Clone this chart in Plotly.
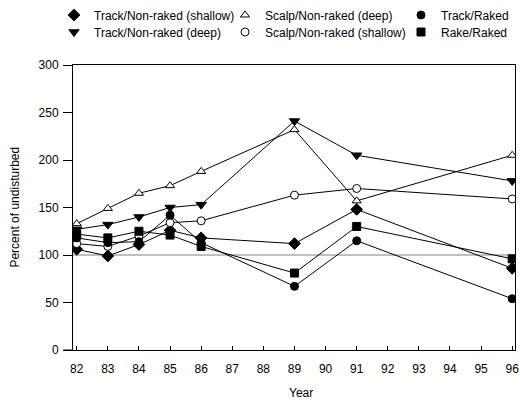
import plotly.graph_objects as go

years = [82, 83, 84, 85, 86, 89, 91, 96]

track_nonraked_shallow = [106, 99, 111, 126, 118, 112, 148, 86]
scalp_nonraked_deep = [133, 149, 165, 173, 188, 232, 157, 205]
track_raked = [118, 113, 114, 142, 113, 67, 115, 54]
track_nonraked_deep = [127, 132, 140, 150, 153, 241, 205, 178]
scalp_nonraked_shallow = [112, 109, 120, 134, 136, 163, 170, 159]
rake_raked = [122, 118, 125, 121, 109, 81, 130, 96]

x_ticks = list(range(82, 97))
y_ticks = [0, 50, 100, 150, 200, 250, 300]

FONT = "Liberation Sans, Arial, sans-serif"
W, H = 520, 402

# name, values, symbol, fill, size, legend id, legend left px, legend row centre px
series = [
    ("Track/Non-raked (shallow)", track_nonraked_shallow, "diamond", "black", 9, "legend", 54, 15),
    ("Track/Non-raked (deep)", track_nonraked_deep, "triangle-down", "black", 9, "legend2", 54, 32),
    ("Scalp/Non-raked (deep)", scalp_nonraked_deep, "triangle-up", "white", 8, "legend3", 225, 15),
    ("Scalp/Non-raked (shallow)", scalp_nonraked_shallow, "circle", "white", 8, "legend4", 225, 32),
    ("Track/Raked", track_raked, "circle", "black", 8, "legend5", 401, 15),
    ("Rake/Raked", rake_raked, "square", "black", 8, "legend6", 401, 32),
]

fig = go.Figure()
# connecting lines
for name, vals, sym, fill, size, lg, lx, ly in series:
    fig.add_trace(go.Scatter(
        x=years, y=vals, name=name, mode="lines", showlegend=False,
        line=dict(color="black", width=1), hoverinfo="skip",
    ))
# markers (shown in the legends)
legends = {}
for name, vals, sym, fill, size, lg, lx, ly in series:
    fig.add_trace(go.Scatter(
        x=years, y=vals, name=name, mode="markers", legend=lg,
        marker=dict(symbol=sym, color=fill, size=size,
                    line=dict(color="black", width=1)),
    ))
    legends[lg] = dict(
        xref="container", yref="container", x=lx / W, y=1 - ly / H,
        xanchor="left", yanchor="middle", orientation="v",
        font=dict(family=FONT, size=12, color="black"),
        itemwidth=30, bgcolor="rgba(0,0,0,0)", borderwidth=0,
    )

# reference line at 100
fig.add_shape(type="line", xref="paper", x0=0, x1=1, yref="y", y0=100, y1=100,
              line=dict(color="#808080", width=1), layer="below")
# x-axis line extension to the left
fig.add_shape(type="line", xref="paper", x0=-0.021, x1=0, yref="y", y0=0, y1=0,
              line=dict(color="black", width=1))

fig.update_layout(
    width=W, height=H,
    margin=dict(l=73, r=5, t=65, b=52, autoexpand=False),
    paper_bgcolor="white", plot_bgcolor="white",
    font=dict(family=FONT, size=12, color="black"),
    showlegend=True,
    xaxis=dict(
        range=[81.88, 96.09], tickvals=x_ticks, ticktext=[str(t) for t in x_ticks],
        showgrid=False, zeroline=False, showline=True, linecolor="black", linewidth=1,
        mirror=True, ticks="inside", ticklen=4, tickcolor="black",
        tickfont=dict(family=FONT, size=12), ticklabelstandoff=8,
    ),
    yaxis=dict(
        range=[0, 300], tickvals=y_ticks,
        showgrid=False, zeroline=False, showline=True, linecolor="black", linewidth=1,
        mirror=True, ticks="outside", ticklen=9, tickcolor="black",
        tickfont=dict(family=FONT, size=12), ticklabelstandoff=2,
    ),
    annotations=[
        dict(text="Year", xref="paper", yref="paper", x=0.515, y=-0.151,
             xanchor="center", yanchor="middle", showarrow=False,
             font=dict(family=FONT, size=12)),
        dict(text="Percent of undisturbed", xref="paper", yref="paper",
             x=-0.1333, y=0.5, xanchor="center", yanchor="middle", textangle=-90,
             showarrow=False, font=dict(family=FONT, size=12)),
    ],
    **legends,
)

fig.write_html(
    "out.html",
    config={"displayModeBar": False},
    post_script="document.body.style.margin='0';document.body.style.overflow='hidden';",
)
